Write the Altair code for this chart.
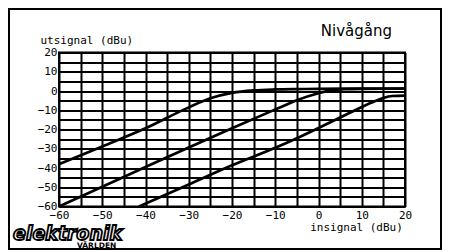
import altair as alt
import pandas as pd

# ---- data ----
x_ticks = list(range(-60, 25, 5))
y_ticks = list(range(-60, 25, 5))

curve1_x = [-60, -50, -40, -30, -25, -20, -15, -10, -5, 0, 10, 20]
curve1_y = [-38, -28.8, -19.4, -8.5, -3.8, -1.0, 0.3, 0.8, 1.0, 1.1, 1.2, 1.2]

curve2_x = [-60, -50, -40, -30, -20, -10, -5, 0, 3, 6, 10, 20]
curve2_y = [-60, -49.7, -39.5, -29.3, -19.3, -9.6, -4.8, -1.2, 0.3, 0.9, 1.1, 1.2]

curve3_x = [-41.5, -30, -20, -10, -5, 0, 5, 10, 13, 15, 17, 20]
curve3_y = [-60, -48.6, -38.6, -29.5, -24.5, -19.2, -13.8, -8.3, -5.3, -3.6, -2.6, -2.4]

title_text = "Nivågång"
x_title = "insignal (dBu)"
y_title = "utsignal (dBu)"
logo_text = "elektronik"
logo_sub = "VÄRLDEN"

rows = []
for name, xs, ys in [("a", curve1_x, curve1_y), ("b", curve2_x, curve2_y), ("c", curve3_x, curve3_y)]:
    for xv, yv in zip(xs, ys):
        rows.append({"curve": name, "x": xv, "y": yv})
df = pd.DataFrame(rows)

# ---- layout ----
W, H = 434, 243
PL, PT = 51, 44.5
PW, PH = 346, 154

FONT = "DejaVu Sans Mono"

x_scale = alt.Scale(domain=[-60, 20], nice=False, zero=False)
y_scale = alt.Scale(domain=[-60, 20], nice=False, zero=False)

label_expr = "datum.value % 10 == 0 ? datum.label : ''"

x_axis = alt.Axis(
    values=x_ticks, labelExpr=label_expr, grid=True, gridColor="black", gridWidth=2,
    gridOpacity=1, ticks=False, domain=False, labelFont=FONT, labelFontSize=11,
    labelColor="black", labelPadding=3, labelFlush=False, labelOverlap=False,
    title=x_title, titleX=297, titleY=21, titleFont=FONT, titleFontSize=11,
    titleFontWeight="normal", titleColor="black", titleBaseline="middle", titleAlign="center",
)
y_axis = alt.Axis(
    values=y_ticks, labelExpr=label_expr, grid=True, gridColor="black", gridWidth=2,
    gridOpacity=1, ticks=False, domain=False, labelFont=FONT, labelFontSize=11,
    labelColor="black", labelPadding=2, labelFlush=False, labelOverlap=False,
    title=y_title, titleAngle=0, titleX=-19, titleY=-12, titleFont=FONT, titleFontSize=11,
    titleFontWeight="normal", titleColor="black", titleBaseline="middle", titleAlign="left",
)

lines = alt.Chart(df).mark_line(color="black", strokeWidth=2.7, interpolate="monotone").encode(
    x=alt.X("x:Q", scale=x_scale, axis=x_axis),
    y=alt.Y("y:Q", scale=y_scale, axis=y_axis),
    detail="curve:N",
)

dummy = alt.Data(values=[{"k": 1}])

frame = alt.Chart(dummy).mark_rect(fillOpacity=0, stroke="black", strokeWidth=2).encode(
    x=alt.value(-50), x2=alt.value(W - PL - 1), y=alt.value(-PT + 1), y2=alt.value(H - PT - 2)
)

title = alt.Chart(dummy).mark_text(
    font="DejaVu Sans", fontSize=15, color="black", align="right", baseline="alphabetic"
).encode(x=alt.value(333), y=alt.value(-16.5), text=alt.value(title_text))

logo = alt.Chart(dummy).mark_text(
    font="DejaVu Sans", fontSize=19, fontWeight="bold", fontStyle="italic",
    fill="white", stroke="black", strokeWidth=1.8, align="left", baseline="middle"
).encode(x=alt.value(-46), y=alt.value(181), text=alt.value(logo_text))

logo2 = alt.Chart(dummy).mark_text(
    font="DejaVu Sans", fontSize=7.5, fontWeight="bold", color="black",
    align="left", baseline="middle"
).encode(x=alt.value(18), y=alt.value(193), text=alt.value(logo_sub))

chart = alt.layer(lines, frame, title, logo, logo2).properties(
    width=PW, height=PH,
    autosize=alt.AutoSizeParams(type="none"),
    padding={"left": PL, "top": PT, "right": W - PL - PW, "bottom": H - PT - PH},
    background="white",
).configure_view(stroke="black", strokeWidth=2)

chart.save("out.html", embed_options={"renderer": "svg", "actions": False})
